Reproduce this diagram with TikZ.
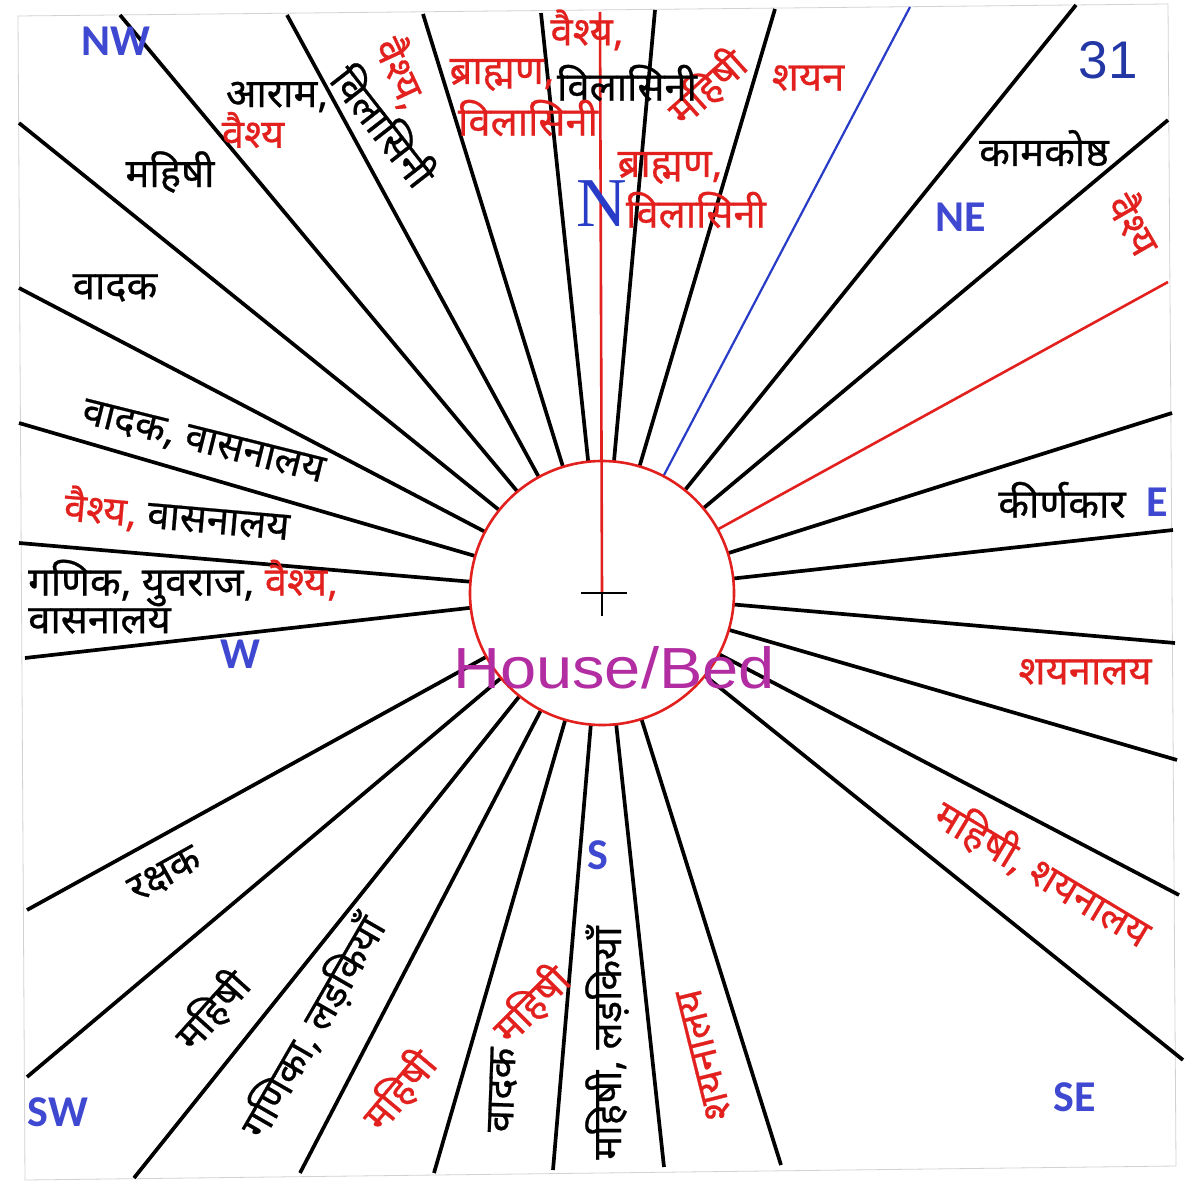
\documentclass[tikz,border=0pt]{standalone}
\usepackage{fontspec}
\usetikzlibrary{calc}
\newfontfamily\dev[Script=Devanagari,FakeBold=0.6]{Noto Sans}
\newfontfamily\carl{Carlito}
\newfontfamily\libsans{Liberation Sans}
\newfontfamily\libserif{Liberation Serif}
\definecolor{tred}{RGB}{226,32,30}
\definecolor{dirblue}{RGB}{62,72,208}
\definecolor{numblue}{RGB}{35,55,165}
\definecolor{housecol}{RGB}{178,44,162}
\definecolor{lineblue}{RGB}{40,60,200}
\tikzset{
  ray/.style={line width=3.7pt, black},
  redray/.style={line width=2.6pt, tred},
  blueray/.style={line width=2.2pt, lineblue},
  dv/.style={font=\dev\fontsize{40}{44}\selectfont, inner sep=0pt, text=black},
  dvr/.style={dv, text=tred},
  dirlab/.style={font=\carl\bfseries\fontsize{44}{48}\selectfont, text=dirblue, inner sep=0pt},
}
\begin{document}
\begin{tikzpicture}[x=1pt,y=-1pt]
\useasboundingbox[fill=white] (0,0) rectangle (1188,1180);
\draw[gray!35, line width=0.8pt] (18,16) -- (1168,4) -- (1176,1166) -- (25,1180) -- cycle;

\coordinate (C) at (602,593);
% outer end points
\coordinate (t1) at (120,15);
\coordinate (t2) at (287,15);
\coordinate (t3) at (423,14);
\coordinate (t4) at (541,13);
\coordinate (t5) at (655,10);
\coordinate (t6) at (775,9);
\coordinate (tb) at (910,7);
\coordinate (t7) at (1076,5);
\coordinate (r1) at (1168,120);
\coordinate (rr) at (1168,282);
\coordinate (r3) at (1172,413);
\coordinate (r4) at (1173,530);
\coordinate (r5) at (1175,643);
\coordinate (r6) at (1177,760);
\coordinate (r7) at (1179,895);
\coordinate (r8) at (1183,1060);
\coordinate (b1) at (781,1165);
\coordinate (b2) at (664,1167);
\coordinate (b3) at (553,1170);
\coordinate (b4) at (434,1173);
\coordinate (b5) at (300,1173);
\coordinate (b6) at (134,1178);
\coordinate (l1) at (27,1077);
\coordinate (l2) at (27,910);
\coordinate (l3) at (25,658);
\coordinate (l4) at (19,543);
\coordinate (l5) at (19,423);
\coordinate (l6) at (19,288);
\coordinate (l7) at (19,123);
\coordinate (nTop) at (600,12);

\foreach \p in {t1,t2,t3,t4,t5,t6,t7,r1,r3,r4,r5,r6,r7,r8,b1,b2,b3,b4,b5,b6,l1,l2,l3,l4,l5,l6,l7}
  \draw[ray] ($(C)!132pt!(\p)$) -- (\p);
\draw[blueray] ($(C)!132pt!(tb)$) -- (tb);
\draw[redray] ($(C)!132pt!(rr)$) -- (rr);

\node (house) [circle, draw=tred, line width=2.6pt, minimum size=264pt, inner sep=0pt] at (C) {};
\draw[redray] (nTop) -- (C);
\coordinate (cl) at (581,593);
\coordinate (cr) at (627,593);
\coordinate (cb) at (602,616);
\draw[line width=2.8pt] (cl) -- (cr);
\draw[line width=2.8pt] (C) -- (cb);

% Latin labels
\node (nw) [dirlab] at (116,41) {NW};
\node (ne) [dirlab] at (961,217) {NE};
\node (e) [dirlab] at (1157,502) {E};
\node (w) [dirlab] at (240,654) {W};
\node (s) [dirlab] at (598,855) {S};
\node (sw) [dirlab] at (58,1112) {SW};
\node (se) [dirlab] at (1075,1097) {SE};
\node (num) [font=\libsans\fontsize{53}{56}\selectfont, text=numblue, inner sep=0pt] at (1108,60) {31};
\node (nlab) [font=\libserif\fontsize{70}{72}\selectfont, text=lineblue, inner sep=0pt] at (602,204) {N};
\node (hb) [font=\libsans\fontsize{58}{60}\selectfont, text=housecol, inner sep=0pt, xscale=1.12] at (614,668) {House/Bed};

% Devanagari labels
\node (aaram) [dv] at (277,97) {आराम,};
\node (vai1) [dvr] at (253,130) {वैश्य};
\node (mah1) [dv] at (170,172) {महिषी};
\node (vad1) [dv] at (115,288) {वादक};
\node (vad2) [dv, rotate=-14] at (203,443) {वादक, वासनालय};
\node (vai2) [dv, rotate=-5] at (177,515) {{\color{tred}वैश्य,} वासनालय};
\node (gan1) [dv, anchor=west] at (28,583) {गणिक, युवराज, {\color{tred}वैश्य,}};
\node (gan2) [dv, anchor=west] at (28,621) {वासनालय};
\node (rak) [dv, rotate=29] at (165,875) {रक्षक};
\node (mah2) [dv, rotate=48] at (212,1010) {महिषी};
\node (gani) [dv, rotate=60] at (313,1027) {गणिका, लड़कियाँ};
\node (mah3) [dvr, rotate=50] at (399,1090) {महिषी};
\node (vad3) [dv, rotate=88] at (503,1090) {वादक};
\node (mah4) [dvr, rotate=45] at (531,1004) {महिषी};
\node (mah5) [dv, rotate=90] at (607,1043) {महिषी, लड़कियाँ};
\node (shy1) [dvr, rotate=104] at (704,1055) {शयनालय};
\node (mahshy) [dvr, rotate=-31] at (1043,873) {महिषी, शयनालय};
\node (shy2) [dvr] at (1085,672) {शयनालय};
\node (kirn) [dv] at (1062,500) {कीर्णकार};
\node (kam) [dv] at (1044,148) {कामकोष्ठ};
\node (vai3) [dvr, rotate=-60] at (1136,223) {वैश्य};
\node (shayan) [dvr] at (808,78) {शयन};
\node (mah6) [dvr, rotate=42] at (707,87) {महिषी};
\node (vai4) [dvr] at (587,30) {वैश्य,};
\node (brah1) [dvr] at (502,75) {ब्राह्मण,};
\node (vil1) [dv] at (627,83) {विलासिनी};
\node (vil2) [dvr] at (528,118) {विलासिनी};
\node (brah2) [dvr] at (670,168) {ब्राह्मण,};
\node (vil3) [dvr] at (696,210) {विलासिनी};
\node (vai5) [dvr, rotate=-65] at (402,73) {वैश्य,};
\node (vil4) [dv, rotate=-52] at (385,125) {विलासिनी};
\end{tikzpicture}
\end{document}
